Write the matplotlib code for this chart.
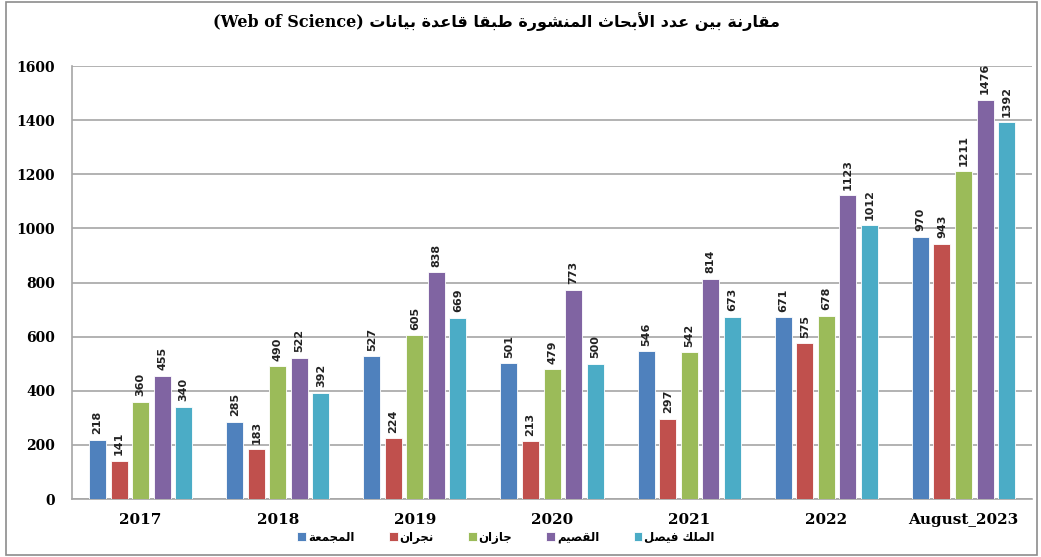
import matplotlib.pyplot as plt
import numpy as np
from matplotlib.patches import Rectangle

# data
years = ["2017", "2018", "2019", "2020", "2021", "2022", "August_2023"]
majmaah = [218, 285, 527, 501, 546, 671, 970]
najran = [141, 183, 224, 213, 297, 575, 943]
jazan = [360, 490, 605, 479, 542, 678, 1211]
qassim = [455, 522, 838, 773, 814, 1123, 1476]
faisal = [340, 392, 669, 500, 673, 1012, 1392]

names = ["المجمعة", "نجران", "جازان", "القصيم", "الملك فيصل"]
title_ar = "مقارنة بين عدد الأبحاث المنشورة طبقا قاعدة بيانات"
title_en = "(Web of Science)"

colors = ["#4F81BD", "#C0504D", "#9BBB59", "#8064A2", "#4BACC6"]

# small arabic shaper (matplotlib has no bidi / joining)
_dual = {
    "ئ": 0xFE89, "ب": 0xFE8F, "ت": 0xFE95, "ث": 0xFE99, "ج": 0xFE9D, "ح": 0xFEA1,
    "خ": 0xFEA5, "س": 0xFEB1, "ش": 0xFEB5, "ص": 0xFEB9, "ض": 0xFEBD, "ط": 0xFEC1,
    "ظ": 0xFEC5, "ع": 0xFEC9, "غ": 0xFECD, "ف": 0xFED1, "ق": 0xFED5, "ك": 0xFED9,
    "ل": 0xFEDD, "م": 0xFEE1, "ن": 0xFEE5, "ه": 0xFEE9, "ي": 0xFEF1,
}
_right = {
    "آ": 0xFE81, "أ": 0xFE83, "ؤ": 0xFE85, "إ": 0xFE87, "ا": 0xFE8D, "ة": 0xFE93,
    "د": 0xFEA9, "ذ": 0xFEAB, "ر": 0xFEAD, "ز": 0xFEAF, "و": 0xFEED, "ى": 0xFEEF,
    "\uFEF5": 0xFEF5, "\uFEF7": 0xFEF7, "\uFEF9": 0xFEF9, "\uFEFB": 0xFEFB,
}


def ar(s):
    s = (s.replace("لآ", "\uFEF5").replace("لأ", "\uFEF7")
          .replace("لإ", "\uFEF9").replace("لا", "\uFEFB"))
    out = []
    for i, c in enumerate(s):
        prev = s[i - 1] if i > 0 else ""
        nxt = s[i + 1] if i + 1 < len(s) else ""
        jp = prev in _dual
        if c in _dual:
            jn = nxt in _dual or nxt in _right
            base = _dual[c]
            out.append(chr(base + (3 if jp and jn else 1 if jp else 2 if jn else 0)))
        elif c in _right:
            out.append(chr(_right[c] + (1 if jp else 0)))
        else:
            out.append(c)
    return "".join(out[::-1])


serif = ["DejaVu Serif"]
arfam = ["DejaVu Sans"]

fig = plt.figure(figsize=(10.41, 5.57), dpi=100)
ax = fig.add_axes([0.0692, 0.1041, 0.9222, 0.7774])

x = np.arange(len(years))
w = 0.124
pitch = 0.157
series = [majmaah, najran, jazan, qassim, faisal]
handles = []
for k, vals in enumerate(series):
    pos = x + (k - 2) * pitch
    b = ax.bar(pos, vals, w, color=colors[k], edgecolor="white", linewidth=0.6,
               zorder=3, label=ar(names[k]))
    handles.append(b)
    for p, v in zip(pos, vals):
        ax.annotate(str(v), (p, v), xytext=(0, 4), textcoords="offset points",
                    rotation=90, ha="center", va="bottom", fontsize=8,
                    fontweight="bold", family="DejaVu Sans", color="#222222")

ax.set_xlim(-0.5, len(years) - 0.5)
ax.set_ylim(0, 1600)
ax.set_yticks(np.arange(0, 1601, 200))
ax.grid(axis="y", color="#A6A6A6", linewidth=1.2, zorder=0)
ax.set_xticks(x)
ax.set_xticklabels(years, fontsize=11, fontweight="bold", family=serif)
for lab in ax.get_yticklabels():
    lab.set_fontweight("bold")
    lab.set_family(serif)
    lab.set_fontsize(10)
ax.tick_params(axis="both", length=0)
ax.tick_params(axis="y", pad=12)
ax.tick_params(axis="x", pad=10)
for sp in ["top", "right"]:
    ax.spines[sp].set_visible(False)
for sp in ["left", "bottom"]:
    ax.spines[sp].set_color("#A6A6A6")
    ax.spines[sp].set_linewidth(1.2)

leg = fig.legend(handles=handles, loc="center", bbox_to_anchor=(506 / 1041, 1 - 537 / 557),
                 ncol=5, frameon=False, handlelength=0.75, handleheight=0.75,
                 handletextpad=0.15, columnspacing=2.9,
                 prop={"family": arfam, "weight": "bold", "size": 8.5})

fig.text(496 / 1041, 1 - 22 / 557, title_en + " " + ar(title_ar), ha="center", va="center",
         fontsize=11.5, fontweight="bold", family=["DejaVu Serif", "DejaVu Sans"])

fig.patches.append(Rectangle((0.006, 0.004), 0.99, 0.992, transform=fig.transFigure,
                             fill=False, edgecolor="#8C8C8C", linewidth=1.2))

fig.savefig("out.png", dpi=100)
